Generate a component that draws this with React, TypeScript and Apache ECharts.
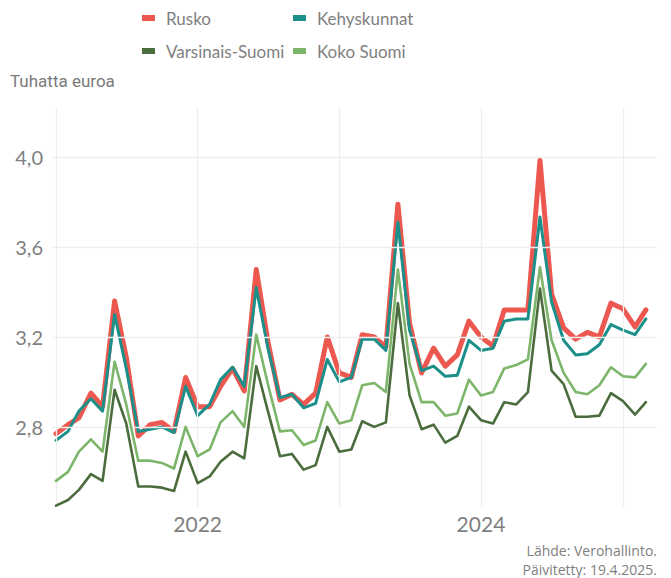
import React, { useEffect, useRef } from "react";
import * as echarts from "echarts";

const months = [
  "2021-01","2021-02","2021-03","2021-04","2021-05","2021-06","2021-07","2021-08","2021-09","2021-10","2021-11","2021-12",
  "2022-01","2022-02","2022-03","2022-04","2022-05","2022-06","2022-07","2022-08","2022-09","2022-10","2022-11","2022-12",
  "2023-01","2023-02","2023-03","2023-04","2023-05","2023-06","2023-07","2023-08","2023-09","2023-10","2023-11","2023-12",
  "2024-01","2024-02","2024-03","2024-04","2024-05","2024-06","2024-07","2024-08","2024-09","2024-10","2024-11","2024-12",
  "2025-01","2025-02","2025-03",
];

const rusko = [
  2.77, 2.81, 2.84, 2.95, 2.89, 3.36, 3.11, 2.76, 2.81, 2.82, 2.78, 3.02,
  2.89, 2.89, 2.98, 3.06, 2.96, 3.50, 3.18, 2.92, 2.945, 2.90, 2.95, 3.20,
  3.04, 3.02, 3.21, 3.20, 3.155, 3.79, 3.26, 3.04, 3.15, 3.07, 3.12, 3.27,
  3.20, 3.16, 3.32, 3.32, 3.32, 3.985, 3.39, 3.24, 3.19, 3.22, 3.20, 3.35,
  3.325, 3.245, 3.32,
];

const kehyskunnat = [
  2.74, 2.78, 2.87, 2.925, 2.87, 3.30, 3.06, 2.78, 2.79, 2.80, 2.775, 2.98,
  2.85, 2.90, 3.01, 3.065, 2.98, 3.42, 3.15, 2.93, 2.945, 2.885, 2.905, 3.10,
  3.00, 3.02, 3.19, 3.19, 3.14, 3.71, 3.23, 3.05, 3.07, 3.025, 3.03, 3.185,
  3.14, 3.15, 3.27, 3.28, 3.28, 3.733, 3.355, 3.185, 3.12, 3.125, 3.165, 3.255,
  3.23, 3.21, 3.28,
];

const varsinaisSuomi = [
  2.45, 2.475, 2.52, 2.59, 2.56, 2.965, 2.815, 2.535, 2.535, 2.53, 2.515, 2.69,
  2.55, 2.58, 2.645, 2.69, 2.66, 3.07, 2.87, 2.67, 2.68, 2.61, 2.63, 2.80,
  2.69, 2.70, 2.825, 2.80, 2.82, 3.35, 2.94, 2.79, 2.81, 2.73, 2.76, 2.89,
  2.83, 2.815, 2.91, 2.90, 2.955, 3.415, 3.05, 2.99, 2.845, 2.845, 2.85, 2.95,
  2.915, 2.855, 2.91,
];

const kokoSuomi = [
  2.56, 2.60, 2.69, 2.745, 2.69, 3.09, 2.90, 2.65, 2.65, 2.64, 2.615, 2.80,
  2.67, 2.70, 2.82, 2.87, 2.80, 3.21, 2.99, 2.78, 2.785, 2.72, 2.74, 2.91,
  2.815, 2.83, 2.985, 2.995, 2.955, 3.50, 3.08, 2.91, 2.91, 2.85, 2.86, 3.01,
  2.94, 2.955, 3.06, 3.075, 3.10, 3.51, 3.185, 3.04, 2.955, 2.945, 2.985, 3.065,
  3.025, 3.02, 3.08,
];

const yTicks = [2.8, 3.2, 3.6, 4.0];
const xLabelYears = ["2022", "2024"];
const xGridYears = ["2021", "2022", "2023", "2024", "2025"];

const seriesNames = ["Rusko", "Kehyskunnat", "Varsinais-Suomi", "Koko Suomi"];
const seriesColors = ["#EC5850", "#1B8F8A", "#4B6D3D", "#7DB66B"];
const seriesWidths = [5, 3, 2.6, 2.6];

const captionLines = ["Lähde: Verohallinto.", "Päivitetty: 19.4.2025."];

const DAY = 86400000;
const toTime = (m: string) => {
  const [y, mo] = m.split("-").map(Number);
  return Date.UTC(y, mo - 1, 1);
};
const yearTime = (y: string) => Date.UTC(Number(y), 0, 1);

const FONT = "Lato, 'Noto Sans', sans-serif";
const GRID_COLOR = "#EEEEEE";

export default function App() {
  const ref = useRef<HTMLDivElement>(null);

  useEffect(() => {
    if (!ref.current) return;
    const chart = echarts.init(ref.current, undefined, { renderer: "svg" });
    const x0 = yearTime("2021");
    const allData = [rusko, kehyskunnat, varsinaisSuomi, kokoSuomi];

    const lineSeries = allData.map((vals, k) => ({
      name: seriesNames[k],
      type: "line",
      data: vals.map((v, i) => [toTime(months[i]), v]),
      showSymbol: false,
      symbol: "none",
      color: seriesColors[k],
      lineStyle: { width: seriesWidths[k], color: seriesColors[k], join: "round", cap: "round" },
      z: 3 + k,
      silent: true,
    }));

    const gridSeries = {
      name: "grid",
      type: "line",
      data: [],
      silent: true,
      z: 1,
      markLine: {
        silent: true,
        symbol: ["none", "none"],
        animation: false,
        label: { show: false },
        lineStyle: { color: GRID_COLOR, width: 1.3, type: "solid" },
        data: [
          ...xGridYears.map((y) => ({ xAxis: yearTime(y) })),
          ...yTicks.map((v) => ({ yAxis: v })),
        ],
      },
    };

    const legendText = {
      fontFamily: FONT,
      fontSize: 17,
      color: "#7F7F7F",
      lineHeight: 20,
      padding: [0, 0, 0, 6],
    };

    chart.setOption({
      animation: false,
      backgroundColor: "#FFFFFF",
      title: {
        text: "Tuhatta euroa",
        left: 5,
        top: 67,
        textStyle: { fontFamily: "Roboto, sans-serif", fontSize: 17, fontWeight: "normal", color: "#7A7A7A" },
      },
      legend: [
        {
          data: [seriesNames[0], seriesNames[2]],
          orient: "vertical",
          left: 142,
          top: 8,
          padding: 0,
          itemWidth: 13,
          itemHeight: 6,
          itemGap: 13,
          icon: "rect",
          selectedMode: false,
          textStyle: legendText,
        },
        {
          data: [seriesNames[1], seriesNames[3]],
          orient: "vertical",
          left: 293,
          top: 8,
          padding: 0,
          itemWidth: 13,
          itemHeight: 6,
          itemGap: 13,
          icon: "rect",
          selectedMode: false,
          textStyle: legendText,
        },
      ],
      grid: { left: 52, right: 14, top: 107, bottom: 71, containLabel: false },
      xAxis: {
        type: "value",
        min: x0 - 10.3 * DAY,
        max: x0 + 1548.6 * DAY,
        axisLine: { show: false },
        axisTick: { show: false },
        splitLine: { show: false },
        axisLabel: {
          customValues: xLabelYears.map(yearTime),
          formatter: (v: number) => String(new Date(v).getUTCFullYear()),
          fontFamily: FONT,
          fontSize: 21,
          color: "#7F7F7F",
          margin: 6,
        },
      },
      yAxis: {
        type: "value",
        min: 2.444,
        max: 4.222,
        axisLine: { show: false },
        axisTick: { show: false },
        splitLine: { show: false },
        axisLabel: {
          customValues: yTicks,
          formatter: (v: number) => v.toFixed(1).replace(".", ","),
          fontFamily: FONT,
          fontSize: 20,
          color: "#7F7F7F",
          margin: 9,
        },
      },
      graphic: captionLines.map((t, i) => ({
        type: "text",
        x: 657,
        y: 550 + i * 19,
        style: {
          text: t,
          align: "right",
          verticalAlign: "middle",
          fontFamily: "'Open Sans', sans-serif",
          fontSize: 14,
          fill: "#7F7F7F",
        },
      })),
      series: [gridSeries, ...lineSeries],
    });

    return () => chart.dispose();
  }, []);

  return (
    <div
      ref={ref}
      style={{ position: "absolute", left: 0, top: 0, width: 671, height: 578 }}
    />
  );
}
